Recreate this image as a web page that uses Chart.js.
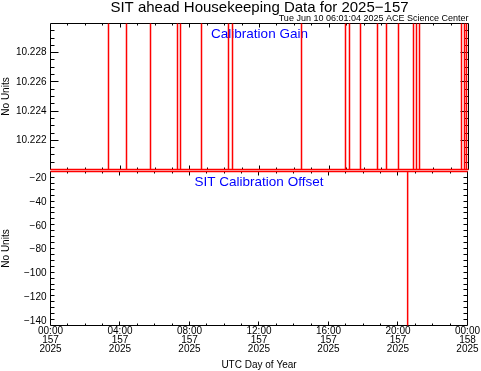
<!DOCTYPE html>
<html>
<head>
<meta charset="utf-8">
<script src="https://cdn.jsdelivr.net/npm/chart.js@4.4.1/dist/chart.umd.min.js"></script>
<style>
html,body{margin:0;padding:0;background:#fff;}
#wrap{position:relative;width:481px;height:371px;overflow:hidden;background:#fff;}
canvas{position:absolute;left:0;top:0;}
</style>
</head>
<body>
<div id="wrap">
<canvas id="c1" width="481" height="371"></canvas>
<canvas id="c2" width="481" height="371"></canvas>
</div>
<script>
// ---- text ----
const chartTitle = 'SIT ahead Housekeeping Data for 2025\u2212157';
const runStamp = 'Tue Jun 10 06:01:04 2025 ACE Science Center';
const gainPanelLabel = 'Calibration Gain';
const offsetPanelLabel = 'SIT Calibration Offset';
const yAxisTitle = 'No Units';
const xAxisTitle = 'UTC Day of Year';

// ---- x axis (hours of day 157) ----
const hourTicks = [0, 4, 8, 12, 16, 20, 24];
const timeLabels = ['00:00', '04:00', '08:00', '12:00', '16:00', '20:00', '00:00'];
const dayLabels = ['157', '157', '157', '157', '157', '157', '158'];
const yearLabels = ['2025', '2025', '2025', '2025', '2025', '2025', '2025'];

// ---- Calibration Gain ----
const gainRange = [10.220, 10.230];
const gainTicks = [10.222, 10.224, 10.226, 10.228];
const gainBaseline = 10.220;
const gainPeak = 10.230;
const gainSpikeHours = [3.330, 4.364, 5.742, 7.292, 7.464, 8.670, 10.220, 10.450, 14.412, 16.938,
                        17.167, 17.799, 18.775, 19.292, 19.981, 20.842, 21.014, 21.187, 23.598, 23.770, 23.885];

// ---- SIT Calibration Offset ----
const offsetRange = [-144, -14];
const offsetTicks = [-20, -40, -60, -80, -100, -120, -140];
const offsetHours  = [0, 20.555, 20.555, 20.555, 24];
const offsetValues = [-14, -14, -144, -14, -14];

// build point tables
const gainPoints = [{x: 0, y: gainBaseline}];
gainSpikeHours.forEach(h => {
  gainPoints.push({x: h, y: gainBaseline}, {x: h, y: gainPeak}, {x: h, y: gainBaseline});
});
gainPoints.push({x: 24, y: gainBaseline});
const offsetPoints = offsetHours.map((h, i) => ({x: h, y: offsetValues[i]}));

Chart.defaults.font.family = "'Liberation Sans', Arial, Helvetica, sans-serif";
Chart.defaults.color = '#000';

const snap = v => Math.round(v - 0.5) + 0.5;

const frameTicks = {
  id: 'frameTicks',
  beforeDatasetsDraw(chart, args, opts) {
    const {ctx, chartArea: a, scales: {x, y}} = chart;
    const L = snap(a.left), R = snap(a.right), T = snap(a.top), B = snap(a.bottom);
    ctx.save();
    ctx.strokeStyle = '#000';
    ctx.lineWidth = 1;
    ctx.beginPath();
    ctx.rect(L, T, R - L, B - T);
    // y ticks (left & right, inward)
    const n = Math.round((opts.yMax - opts.yMin) / opts.yMinor);
    for (let i = 1; i < n; i++) {
      const v = opts.yMin + i * opts.yMinor;
      const major = opts.yMajor.some(m => Math.abs(m - v) < opts.yMinor / 10);
      const len = major ? 8 : 4;
      const py = snap(y.getPixelForValue(v));
      ctx.moveTo(L, py); ctx.lineTo(L + len, py);
      ctx.moveTo(R, py); ctx.lineTo(R - len, py);
    }
    // x ticks (top & bottom, inward)
    for (let h = 1; h < 24; h++) {
      const major = h % 4 === 0;
      const len = major ? 4 : 2;
      const px = snap(x.getPixelForValue(h));
      ctx.moveTo(px, T); ctx.lineTo(px, T + len);
      ctx.moveTo(px, B); ctx.lineTo(px, B - len);
    }
    ctx.stroke();
    // panel label
    ctx.fillStyle = '#0000ff';
    ctx.font = "13.5px 'Liberation Sans', Arial, sans-serif";
    ctx.textAlign = 'center';
    ctx.textBaseline = 'alphabetic';
    ctx.fillText(opts.label, (a.left + a.right) / 2, a.top + opts.labelDy);
    ctx.restore();
  }
};

const yScale = (range, ticks, fmt) => ({
  min: range[0], max: range[1],
  afterBuildTicks: s => { s.ticks = ticks.map(v => ({value: v})); },
  afterFit: s => { s.width = 50.5; },
  grid: {display: false, drawTicks: false},
  border: {display: false},
  ticks: {padding: 4, font: {size: 10}, color: '#000', callback: fmt},
  title: {display: true, text: yAxisTitle, padding: 0, font: {size: 10}, color: '#000'}
});

const lineDs = (label, pts) => ({
  label: label, data: pts, borderColor: '#ff0000', borderWidth: 1.5,
  pointRadius: 0, tension: 0, fill: false, clip: false
});

new Chart(document.getElementById('c1'), {
  type: 'line',
  data: {datasets: [lineDs(gainPanelLabel, gainPoints)]},
  options: {
    responsive: false, animation: false, events: [],
    layout: {padding: {left: 0, right: 12.5, top: 0, bottom: 201.5}},
    plugins: {
      legend: {display: false}, tooltip: {enabled: false},
      title: {display: true, text: chartTitle, fullSize: false, align: 'center', color: '#000',
              font: {size: 15, weight: 'normal', lineHeight: 0.8}, padding: {top: 2, bottom: 0}},
      subtitle: {display: true, text: runStamp, fullSize: false, align: 'end', color: '#000',
                 font: {size: 9, weight: 'normal', lineHeight: 1}, padding: {top: 0.5, bottom: 0}},
      frameTicks: {yMin: gainRange[0], yMax: gainRange[1], yMinor: 0.0005, yMajor: gainTicks, label: gainPanelLabel, labelDy: 14.5}
    },
    scales: {
      x: {type: 'linear', min: 0, max: 24, display: false},
      y: yScale(gainRange, gainTicks, v => Number(v).toFixed(3))
    }
  },
  plugins: [frameTicks]
});

new Chart(document.getElementById('c2'), {
  type: 'line',
  data: {datasets: [lineDs(offsetPanelLabel, offsetPoints)]},
  options: {
    responsive: false, animation: false, events: [],
    layout: {padding: {left: 0, right: 12.5, top: 171.5, bottom: 0}},
    plugins: {
      legend: {display: false}, tooltip: {enabled: false},
      frameTicks: {yMin: offsetRange[0], yMax: offsetRange[1], yMinor: 5, yMajor: offsetTicks, label: offsetPanelLabel, labelDy: 14.5}
    },
    scales: {
      x: {
        type: 'linear', min: 0, max: 24,
        afterBuildTicks: s => { s.ticks = hourTicks.map(v => ({value: v})); },
        afterFit: s => { s.height = 45.5; },
        grid: {display: false, drawTicks: false},
        border: {display: false},
        ticks: {autoSkip: false, maxRotation: 0, padding: 1, font: {size: 10, lineHeight: 0.9}, color: '#000',
                callback: (v, i) => [timeLabels[i], dayLabels[i], yearLabels[i]]},
        title: {display: true, text: xAxisTitle, padding: 0, font: {size: 10}, color: '#000'}
      },
      y: yScale(offsetRange, offsetTicks, v => String(v).replace('-', '\u2212'))
    }
  },
  plugins: [frameTicks]
});
</script>
</body>
</html>
